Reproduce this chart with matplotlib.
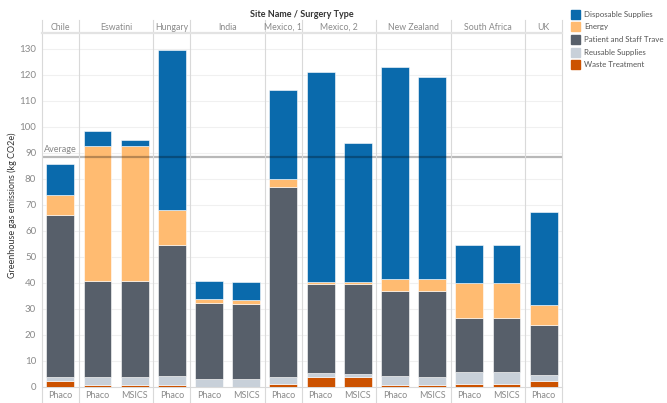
import numpy as np
import matplotlib
matplotlib.use("Agg")
import matplotlib.pyplot as plt
from matplotlib.patches import Rectangle
from matplotlib.lines import Line2D

plt.rcParams["font.family"] = ["Lato", "DejaVu Sans"]

SITES = ["Chile", "Eswatini", "Hungary", "India", "Mexico, 1", "Mexico, 2",
         "New Zealand", "South Africa", "UK"]
BAR_SITE = ["Chile", "Eswatini", "Eswatini", "Hungary", "India", "India", "Mexico, 1",
            "Mexico, 2", "Mexico, 2", "New Zealand", "New Zealand", "South Africa",
            "South Africa", "UK"]
BAR_TYPE = ["Phaco", "Phaco", "MSICS", "Phaco", "Phaco", "MSICS", "Phaco",
            "Phaco", "MSICS", "Phaco", "MSICS", "Phaco", "MSICS", "Phaco"]

waste = [2.2, 0.7, 0.7, 0.7, 0.0, 0.0, 1.3, 4.0, 4.0, 0.8, 0.8, 1.3, 1.3, 2.2]
reusable = [1.8, 3.0, 3.0, 3.7, 3.1, 3.1, 2.7, 1.3, 1.1, 3.4, 3.2, 4.3, 4.3, 2.4]
travel = [62.2, 37.1, 37.1, 50.1, 29.1, 28.6, 72.8, 34.3, 34.5, 32.6, 32.8, 21.1, 21.1, 19.1]
energy = [7.5, 51.6, 51.6, 13.5, 1.5, 1.6, 3.2, 0.8, 0.8, 4.7, 4.7, 13.4, 13.4, 7.8]
disposable = [12.1, 5.8, 2.5, 61.6, 7.2, 7.1, 34.2, 80.5, 53.3, 81.3, 77.7, 14.6, 14.6, 35.8]

SERIES = [("Waste Treatment", waste, "#cc5200"),
          ("Reusable Supplies", reusable, "#c8d0d9"),
          ("Patient and Staff Trave", travel, "#575f6a"),
          ("Energy", energy, "#ffbb71"),
          ("Disposable Supplies", disposable, "#0a6aac")]
LEGEND_ORDER = ["Disposable Supplies", "Energy", "Patient and Staff Trave",
                "Reusable Supplies", "Waste Treatment"]

W, H = 667, 403
fig = plt.figure(figsize=(W / 100, H / 100), dpi=100)

# plot area in pixels
x0, x1, ytop, ybot = 41.7, 562.3, 33, 387
ax = fig.add_axes([x0 / W, 1 - ybot / H, (x1 - x0) / W, (ybot - ytop) / H])

n = len(BAR_TYPE)
x = np.arange(n)
bottom = np.zeros(n)
for name, vals, col in SERIES:
    v = np.array(vals)
    ax.bar(x, v, 0.75, bottom=bottom, color=col, edgecolor="white", linewidth=0.4, zorder=3)
    bottom += v

avg = np.mean(bottom)
ax.axhline(avg, color="#000000", alpha=0.28, lw=1.6, zorder=5)
ax.text(-0.45, avg + 1.2, "Average", fontsize=6.5, color="#888888", va="bottom", ha="left", zorder=6)

ax.set_xlim(-0.5, n - 0.5)
ax.set_ylim(0, 136)
ax.set_yticks(np.arange(0, 131, 10))
ax.tick_params(axis="y", length=0, labelsize=7, labelcolor="#8a8a8a", pad=4)
ax.set_xticks([])
for t in np.arange(10, 131, 10):
    ax.axhline(t, color="#f0f0f0", lw=0.8, zorder=0)
for s in ["top", "right", "left"]:
    ax.spines[s].set_visible(False)
ax.spines["bottom"].set_color("#d9d9d9")
ax.spines["bottom"].set_linewidth(0.8)

# site separators and headers
slot = (x1 - x0) / n
edges = [0]
for i in range(1, n):
    if BAR_SITE[i] != BAR_SITE[i - 1]:
        edges.append(i)
edges.append(n)
for e in edges:
    px = x0 + e * slot
    fig.add_artist(Line2D([px / W, px / W], [1 - 20 / H, 0], color="#d9d9d9", lw=0.8))
fig.add_artist(Line2D([x0 / W, x1 / W], [1 - 33 / H, 1 - 33 / H], color="#e3e3e3", lw=1.6))
for k, site in enumerate(SITES):
    cx = x0 + (edges[k] + edges[k + 1]) / 2 * slot
    fig.text(cx / W, 1 - 27 / H, site, ha="center", va="center", fontsize=6.3, color="#8a8a8a")
fig.text((x0 + x1) / 2 / W, 1 - 14.5 / H, "Site Name / Surgery Type", ha="center", va="center",
         fontsize=6.5, color="#333333", fontweight="bold")

for i, lab in enumerate(BAR_TYPE):
    cx = x0 + (i + 0.5) * slot
    fig.text(cx / W, 1 - 395 / H, lab, ha="center", va="center", fontsize=6.5, color="#8a8a8a")

fig.text(12 / W, 1 - 205 / H, "Greenhouse gas emissions (kg CO2e)", rotation=90,
         ha="center", va="center", fontsize=6.5, color="#333333")

# legend
colors = {name: col for name, _, col in SERIES}
for j, name in enumerate(LEGEND_ORDER):
    cy = 14.3 + j * 12.6
    fig.add_artist(Rectangle(((571) / W, 1 - (cy + 4.5) / H), 9 / W, 9 / H,
                             color=colors[name], transform=fig.transFigure))
    fig.text(584 / W, 1 - cy / H, name, ha="left", va="center", fontsize=5.7, color="#555555")

fig.savefig("out.png", dpi=100)
